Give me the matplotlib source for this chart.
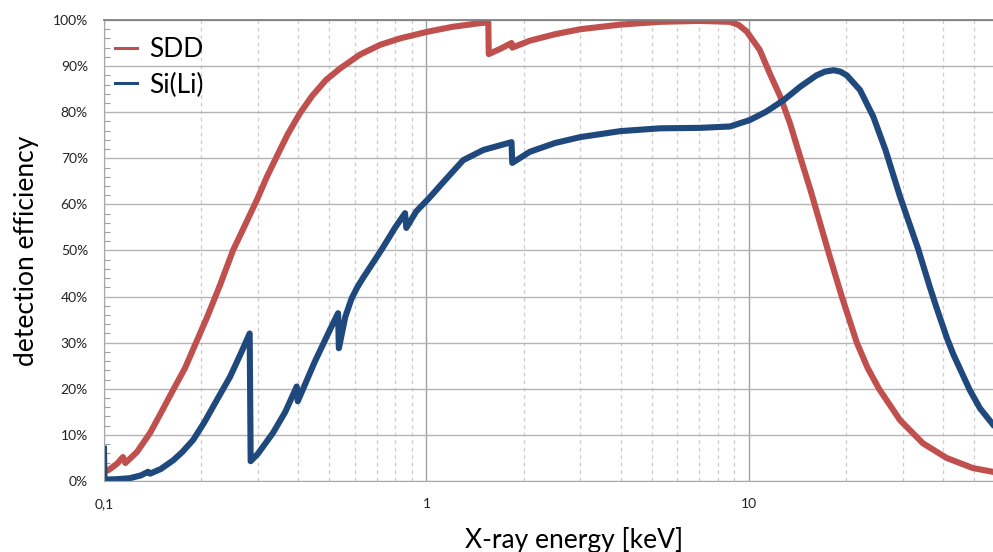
import matplotlib
matplotlib.use("Agg")
import matplotlib.pyplot as plt
from matplotlib.ticker import FixedLocator, FuncFormatter, PercentFormatter, MultipleLocator

plt.rcParams['font.family'] = ['Lato', 'DejaVu Sans']

# SDD efficiency (energy in keV, efficiency in %)
sdd_energy = [0.100, 0.1044, 0.110, 0.1145, 0.1165, 0.1266, 0.1389, 0.1492, 0.1637, 0.1784,
              0.1929, 0.2087, 0.2290, 0.2512, 0.2737, 0.2981, 0.3201, 0.3439, 0.3719, 0.4054,
              0.4416, 0.4880, 0.540, 0.6221, 0.7175, 0.8276, 1.00, 1.20, 1.46, 1.555,
              1.560, 1.70, 1.835, 1.845, 2.09, 2.50, 3.00, 4.00, 5.30, 7.00,
              8.73, 9.30, 9.84, 10.8, 11.6, 12.5, 13.4, 14.4, 15.5, 16.6,
              17.8, 19.4, 21.6, 23.3, 25.3, 29.4, 34.6, 41.0, 49.5, 57.0]
sdd_eff = [2.0, 2.6, 3.8, 5.2, 3.9, 6.3, 10.4, 14.4, 19.7, 24.5,
           30.0, 35.5, 42.5, 50.0, 55.5, 61.0, 66.0, 70.5, 75.3, 79.8,
           83.5, 87.0, 89.5, 92.5, 94.6, 96.0, 97.4, 98.5, 99.3, 99.5,
           92.6, 93.8, 95.0, 94.0, 95.5, 96.9, 98.0, 99.0, 99.6, 99.8,
           99.6, 98.9, 97.5, 93.5, 88.4, 83.4, 77.6, 70.4, 63.2, 56.0,
           48.7, 40.0, 30.0, 24.6, 20.0, 13.2, 8.2, 5.0, 2.8, 2.0]

# Si(Li) efficiency
sili_energy = [0.1000, 0.1004, 0.110, 0.120, 0.130, 0.137, 0.139, 0.150, 0.164, 0.175,
               0.189, 0.205, 0.224, 0.246, 0.265, 0.283, 0.285, 0.300, 0.334, 0.365,
               0.396, 0.399, 0.450, 0.502, 0.532, 0.535, 0.560, 0.586, 0.610, 0.635,
               0.726, 0.800, 0.858, 0.866, 0.930, 1.02, 1.15, 1.30, 1.50, 1.835,
               1.845, 2.09, 2.50, 3.00, 4.00, 5.30, 7.05, 8.73, 10.06, 11.3,
               12.8, 14.4, 16.2, 17.2, 18.3, 19.2, 20.1, 22.1, 24.3, 26.5,
               29.4, 33.4, 36.4, 38.2, 41.1, 43.0, 48.4, 52.0, 57.0]
sili_eff = [7.0, 0.3, 0.4, 0.6, 1.2, 2.0, 1.6, 2.6, 4.5, 6.3,
            8.9, 12.8, 17.6, 22.6, 27.5, 32.0, 4.3, 5.9, 10.4, 15.0,
            20.5, 17.3, 25.8, 32.8, 36.4, 28.8, 35.6, 39.6, 42.0, 44.0,
            50.2, 55.0, 58.1, 54.9, 58.5, 61.4, 65.5, 69.6, 71.8, 73.5,
            69.0, 71.4, 73.3, 74.6, 75.9, 76.5, 76.6, 76.9, 78.3, 80.1,
            82.6, 85.5, 88.0, 88.8, 89.1, 88.8, 88.0, 84.8, 79.0, 71.8,
            61.7, 50.5, 42.0, 37.5, 31.0, 27.5, 19.7, 15.8, 12.3]

x_ticks = [0.1, 1, 10]

fig = plt.figure(figsize=(9.93, 5.52), dpi=100)
ax = fig.add_axes([0.1047, 0.1286, 0.8953, 0.8352])

ax.set_xscale('log')
ax.set_xlim(0.1, 57.1)
ax.set_ylim(0, 100)

# grid: solid at decades and every 10 %, dashed at minor decades
ax.xaxis.set_major_locator(FixedLocator(x_ticks))
ax.xaxis.set_major_formatter(FuncFormatter(lambda v, p: ('%g' % v).replace('.', ',')))
ax.yaxis.set_major_locator(MultipleLocator(10))
ax.yaxis.set_minor_locator(MultipleLocator(2))
ax.yaxis.set_major_formatter(PercentFormatter(decimals=0))
ax.grid(True, which='major', axis='y', color='#b4b4b4', lw=1.0)
ax.grid(True, which='major', axis='x', color='#a0a0a0', lw=1.0)
ax.grid(True, which='minor', axis='x', color='#cccccc', lw=0.9, ls=(0, (3, 3)))
ax.set_axisbelow(True)

ax.tick_params(axis='x', which='both', length=0, pad=12.5, labelsize=10, colors='#222222')
ax.tick_params(axis='y', which='major', length=0, pad=11.5, labelsize=10, colors='#222222')
ax.tick_params(axis='y', which='minor', direction='in', length=4, width=0.8, color='#a0a0a0')

ax.spines['right'].set_visible(False)
ax.spines['top'].set_color('#808080')
ax.spines['top'].set_linewidth(1.3)
ax.spines['left'].set_color('#a8a8a8')
ax.spines['bottom'].set_color('#a8a8a8')

ax.plot(sdd_energy, sdd_eff, color='#c0504d', lw=4.4, label='SDD', solid_joinstyle='round')
ax.plot(sili_energy, sili_eff, color='#1f497d', lw=4.4, label='Si(Li)', solid_joinstyle='round')

leg = ax.legend(loc='upper left', frameon=False, fontsize=19, handlelength=0.85,
                handletextpad=0.45, labelspacing=0.38, borderaxespad=0.0,
                bbox_to_anchor=(0.0, 0.985))
for line in leg.get_lines():
    line.set_linewidth(2.2)

ax.set_xlabel('X-ray energy [keV]', fontsize=19)
ax.set_ylabel('detection efficiency', fontsize=19)
ax.xaxis.set_label_coords(0.529, -0.100)
ax.yaxis.set_label_coords(-0.073, 0.5)

fig.savefig('out.png', dpi=100)
